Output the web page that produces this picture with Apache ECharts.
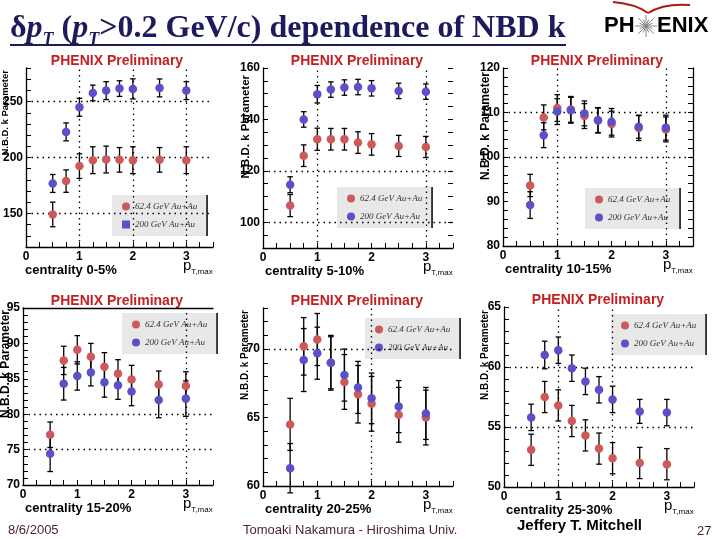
<!DOCTYPE html>
<html><head><meta charset="utf-8">
<script src="https://cdn.jsdelivr.net/npm/echarts@6/dist/echarts.min.js"></script>
<style>html,body{margin:0;padding:0;background:#fff}#c{width:720px;height:540px}</style>
</head><body><div id="c"></div>
<script>
// ---------- data ----------
const ptMax = [0.5, 0.75, 1, 1.25, 1.5, 1.75, 2, 2.5, 3];
const centralities = ['centrality 0-5%', 'centrality 5-10%', 'centrality 10-15%', 'centrality 15-20%', 'centrality 20-25%', 'centrality 25-30%'];
const seriesNames = ['62.4 GeV Au+Au', '200 GeV Au+Au'];

const k62_c0 = [149.1, 178.9, 192.3, 197.6, 198.2, 197.9, 197.6, 197.9, 197.6];
const k200_c0 = [176.8, 222.9, 244.9, 257.7, 259.8, 261.6, 261.3, 262.2, 259.8];
const e62_c0 = [11, 10, 11, 12, 12, 11, 12, 11, 12];
const e200_c0 = [8, 8, 8, 7, 8, 7, 9, 8, 8];

const k62_c5 = [106.5, 125.9, 132.3, 132.3, 132.3, 131.0, 130.3, 129.7, 129.3];
const k200_c5 = [114.6, 140.0, 149.8, 151.6, 152.4, 152.6, 152.1, 151.1, 150.8];
const e62_c5 = [4.3, 4.2, 4.3, 4.2, 4.2, 4.2, 4.2, 4.1, 4.1];
const e200_c5 = [3.1, 3, 3.4, 3, 3, 3, 3, 3, 3];

const k62_c10 = [93.6, 108.9, 111.0, 110.7, 109.2, 108.3, 107.4, 106.5, 106.2];
const k200_c10 = [89.2, 104.9, 110.2, 110.5, 109.8, 108.2, 107.9, 106.8, 106.6];
const e62_c10 = [2.5, 2.8, 3, 2.9, 2.8, 2.8, 2.9, 2.8, 2.8];
const e200_c10 = [3, 2.8, 2.9, 2.9, 2.8, 2.8, 3, 2.6, 2.8];

const k62_c15 = [77.1, 87.6, 89.1, 88.1, 86.7, 85.7, 84.9, 84.2, 84.0];
const k200_c15 = [74.4, 84.3, 85.4, 85.9, 84.5, 84.1, 83.2, 82.0, 82.2];
const e62_c15 = [1.8, 2, 2, 1.9, 2, 2, 2, 1.9, 2];
const e200_c15 = [2.5, 2.3, 2, 1.9, 2.1, 2, 2, 2.5, 2.5];

const k62_c20 = [64.5, 70.2, 70.7, 69.0, 67.6, 66.7, 66.0, 65.2, 65.0];
const k200_c20 = [61.3, 69.2, 69.7, 69.0, 68.1, 67.2, 66.4, 65.8, 65.3];
const e62_c20 = [1.9, 2.1, 1.9, 2, 2, 2.1, 2, 2, 2];
const e200_c20 = [1.8, 2.3, 1.9, 1.9, 1.9, 1.9, 1.85, 1.9, 1.9];

const k62_c25 = [53.1, 57.5, 56.8, 55.5, 54.3, 53.2, 52.4, 52.0, 51.9];
const k200_c25 = [55.8, 61.0, 61.4, 59.9, 58.8, 58.1, 57.3, 56.3, 56.2];
const e62_c25 = [1.3, 1.3, 1.3, 1.3, 1.3, 1.3, 1.3, 1.3, 1.3];
const e200_c25 = [1.1, 1.15, 1.1, 1.1, 1.1, 1.1, 1.1, 1.0, 1.1];

const k62 = [k62_c0, k62_c5, k62_c10, k62_c15, k62_c20, k62_c25];
const k200 = [k200_c0, k200_c5, k200_c10, k200_c15, k200_c20, k200_c25];
const e62 = [e62_c0, e62_c5, e62_c10, e62_c15, e62_c20, e62_c25];
const e200 = [e200_c0, e200_c5, e200_c10, e200_c15, e200_c20, e200_c25];

// axis ranges and tick labels
const yMins = [120, 90, 80, 70, 60, 50];
const yMaxs = [280, 160, 120, 95, 73, 65];
const yTickSteps = [10, 5, 2, 1, 1, 1];
const yLabelSteps = [50, 20, 10, 5, 5, 5];
const yGridValues = [[150, 200, 250], [100, 120], [100, 110], [75, 80], [70], [55, 60]];
const xGridValues = [[1, 2, 3], [1, 3], [1, 3], [3], [2], [1, 2]];
const xLabelValues = [0, 1, 2, 3];

// ---------- layout ----------
const boxes = [[23, 68, 190, 179], [263, 68, 190, 180], [503, 68, 190, 178],
               [23, 308, 190, 177], [263, 308, 190, 178], [504, 307, 190, 180]];
const legendPos = [[112, 195], [337, 187], [585, 188], [122, 313], [365, 318], [611, 314]];
const yNamePos = [[0, 70, 9.5], [240, 75, 11.5], [480, 72, 12], [0, 310, 12], [240, 310, 10], [480, 310, 10]];
const rightFrame = [null, 'ticks', 'line', null, null, null];
const topFrame = [false, false, false, true, false, false];
const RED = '#cd5a5a', BLUE = '#5a50c8';
const SANS = '"Liberation Sans", Arial, sans-serif';
const SERIF = '"Liberation Serif", "Times New Roman", serif';

function renderErr(params, api) {
  const x = api.value(0), lo = api.value(1), hi = api.value(2);
  if (!(hi > lo)) return null;
  const p1 = api.coord([x, lo]), p2 = api.coord([x, hi]);
  const c = 2.8;
  const st = { stroke: '#000', lineWidth: 1.3 };
  return { type: 'group', children: [
    { type: 'line', shape: { x1: p1[0], y1: p1[1], x2: p2[0], y2: p2[1] }, style: st },
    { type: 'line', shape: { x1: p1[0] - c, y1: p1[1], x2: p1[0] + c, y2: p1[1] }, style: st },
    { type: 'line', shape: { x1: p2[0] - c, y1: p2[1], x2: p2[0] + c, y2: p2[1] }, style: st }
  ]};
}

const grids = [], xAxes = [], yAxes = [], series = [], legends = [], graphics = [];
const extraX = [], extraY = [];
boxes.forEach((b, i) => {
  grids.push({ left: b[0], top: b[1], width: b[2], height: b[3] });
  xAxes.push({
    type: 'value', gridIndex: i, min: 0, max: 3.5, interval: 0.25,
    axisLine: { show: true, onZero: false, lineStyle: { color: '#000', width: 1.3 } },
    axisTick: { inside: true, length: 5, lineStyle: { color: '#000' } },
    axisLabel: { margin: 4, color: '#000', fontWeight: 'bold', fontSize: 12, fontFamily: SANS,
      formatter: v => xLabelValues.includes(v) ? String(v) : '' },
    splitLine: { show: false }
  });
  const step = yLabelSteps[i];
  yAxes.push({
    type: 'value', gridIndex: i, min: yMins[i], max: yMaxs[i], interval: yTickSteps[i],
    axisLine: { show: true, onZero: false, lineStyle: { color: '#000', width: 1.3 } },
    axisTick: { inside: true, length: 5, lineStyle: { color: '#000' } },
    axisLabel: { margin: 3, color: '#000', fontWeight: 'bold', fontSize: 12, fontFamily: SANS,
      formatter: v => (Math.abs(v / step - Math.round(v / step)) < 1e-6 ? String(v) : '') },
    splitLine: { show: false }
  });
  if (rightFrame[i]) {
    extraY.push({
      type: 'value', gridIndex: i, position: 'right', min: yMins[i], max: yMaxs[i], interval: yTickSteps[i],
      axisLine: { show: rightFrame[i] === 'line', onZero: false, lineStyle: { color: '#000', width: 1.3 } },
      axisTick: { show: true, inside: true, length: 5, lineStyle: { color: '#000' } },
      axisLabel: { show: false }, splitLine: { show: false }
    });
  }
  if (topFrame[i]) {
    extraX.push({
      type: 'value', gridIndex: i, position: 'top', min: 0, max: 3.5,
      axisLine: { show: true, onZero: false, lineStyle: { color: '#000', width: 1.3 } },
      axisTick: { show: false }, axisLabel: { show: false }, splitLine: { show: false }
    });
  }
  const errR = ptMax.map((x, j) => [x, k62[i][j] - e62[i][j], k62[i][j] + e62[i][j]]);
  const errB = ptMax.map((x, j) => [x, k200[i][j] - e200[i][j], k200[i][j] + e200[i][j]]);
  series.push({ type: 'custom', xAxisIndex: i, yAxisIndex: i, renderItem: renderErr,
    encode: { x: 0, y: [1, 2] }, data: errR, z: 3, silent: true });
  series.push({ type: 'custom', xAxisIndex: i, yAxisIndex: i, renderItem: renderErr,
    encode: { x: 0, y: [1, 2] }, data: errB, z: 3, silent: true });
  const gridMarks = yGridValues[i].map(v => ({ yAxis: v })).concat(xGridValues[i].map(v => ({ xAxis: v })));
  series.push({ name: seriesNames[0], type: 'scatter', xAxisIndex: i, yAxisIndex: i,
    symbol: 'circle', symbolSize: 8.5, itemStyle: { color: RED, opacity: 1 }, z: 5,
    data: ptMax.map((x, j) => [x, k62[i][j]]),
    markLine: { silent: true, symbol: 'none', label: { show: false }, animation: false,
      lineStyle: { color: '#000', type: [1.5, 4], width: 1.3 }, data: gridMarks } });
  series.push({ name: seriesNames[1], type: 'scatter', xAxisIndex: i, yAxisIndex: i,
    symbol: 'circle', symbolSize: 8.5, itemStyle: { color: BLUE, opacity: 1 }, z: 6,
    data: ptMax.map((x, j) => [x, k200[i][j]]) });
  legends.push({
    left: legendPos[i][0], top: legendPos[i][1], orient: 'vertical', selectedMode: false,
    backgroundColor: '#e8e8e8', padding: [7, 9, 7, 10], itemGap: 9, itemWidth: 8, itemHeight: 8,
    shadowColor: '#000', shadowOffsetX: 1.5, shadowBlur: 0,
    textStyle: { fontFamily: SERIF, fontStyle: 'italic', fontSize: 9, color: '#333' },
    data: [{ name: seriesNames[0], icon: 'circle' }, { name: seriesNames[1], icon: i === 0 ? 'rect' : 'circle' }]
  });
  // panel annotations
  graphics.push({ type: 'text', x: b[0] + 94, y: b[1] - 7, style: { text: 'PHENIX Preliminary',
    fill: '#c41e1e', font: 'bold 14px ' + SANS, textAlign: 'center', textVerticalAlign: 'middle' } });
  graphics.push({ type: 'text', x: b[0] + 2, y: b[1] + b[3] + 23, style: { text: centralities[i],
    fill: '#000', font: 'bold 13px ' + SANS, textAlign: 'left', textVerticalAlign: 'middle' } });
  graphics.push({ type: 'text', x: yNamePos[i][0], y: yNamePos[i][1], rotation: Math.PI / 2,
    style: { text: 'N.B.D. k Parameter', fill: '#000', font: 'bold ' + yNamePos[i][2] + 'px ' + SANS,
      textAlign: 'right', textVerticalAlign: 'top' } });
  graphics.push({ type: 'text', x: b[0] + 160, y: b[1] + b[3] + 19, style: {
    text: '{p|p}{s|T,max}', textVerticalAlign: 'middle', fill: '#000',
    rich: { p: { fontSize: 15, fontFamily: SANS, lineHeight: 20, fill: '#000' },
            s: { fontSize: 8, fontFamily: SANS, lineHeight: 10, verticalAlign: 'bottom', fill: '#000' } } } });
});

// slide title, logo, footer
graphics.push({ type: 'text', x: 10, y: 29, style: {
  text: '{a|δ}{p|p}{s|T}{a| (}{p|p}{s|T}{a|>0.2 GeV/c) dependence of NBD k}',
  textVerticalAlign: 'middle', fill: '#1c1c5c',
  rich: { a: { font: 'bold 32px ' + SERIF, lineHeight: 40, fill: '#1c1c5c' },
          p: { font: 'italic bold 32px ' + SERIF, lineHeight: 40, fill: '#1c1c5c' },
          s: { font: 'italic bold 18px ' + SERIF, lineHeight: 18, verticalAlign: 'bottom', fill: '#1c1c5c' } } } });
graphics.push({ type: 'line', shape: { x1: 10, y1: 45, x2: 566, y2: 45 }, style: { stroke: '#1c1c5c', lineWidth: 2 } });
graphics.push({ type: 'bezierCurve', shape: { x1: 613, y1: 2, x2: 648, y2: 13, cpx1: 636, cpy1: 4 }, style: { stroke: '#b01818', lineWidth: 2, fill: null } });
graphics.push({ type: 'bezierCurve', shape: { x1: 648, y1: 13, x2: 690, y2: 5, cpx1: 664, cpy1: 3 }, style: { stroke: '#b01818', lineWidth: 2, fill: null } });
graphics.push({ type: 'text', x: 604, y: 26, style: { text: 'PH', font: 'bold 22px ' + SANS, fill: '#000', textVerticalAlign: 'middle' } });
graphics.push({ type: 'text', x: 657, y: 26, style: { text: 'ENIX', font: 'bold 22px ' + SANS, fill: '#000', textVerticalAlign: 'middle' } });
for (let a = 0; a < 16; a++) {
  const ang = a * Math.PI / 8, r = a % 2 ? 7 : 11;
  graphics.push({ type: 'line', shape: { x1: 646, y1: 26, x2: 646 + r * Math.cos(ang), y2: 26 + r * Math.sin(ang) },
    style: { stroke: '#888', lineWidth: 1 } });
}
graphics.push({ type: 'text', x: 8, y: 530, style: { text: '8/6/2005', font: '13px ' + SANS, fill: '#4d1f2f', textVerticalAlign: 'middle' } });
graphics.push({ type: 'text', x: 243, y: 530, style: { text: 'Tomoaki Nakamura - Hiroshima Univ.', font: '13px ' + SANS, fill: '#4d1f2f', textVerticalAlign: 'middle' } });
graphics.push({ type: 'text', x: 517, y: 526, style: { text: 'Jeffery T. Mitchell', font: 'bold 15px ' + SANS, fill: '#000', textVerticalAlign: 'middle' } });
graphics.push({ type: 'text', x: 697, y: 531, style: { text: '27', font: '13px ' + SANS, fill: '#4d1f2f', textVerticalAlign: 'middle' } });

const chart = echarts.init(document.getElementById('c'), null, { renderer: 'canvas' });
chart.setOption({
  animation: false,
  backgroundColor: '#fff',
  grid: grids, xAxis: xAxes.concat(extraX), yAxis: yAxes.concat(extraY), series: series, legend: legends,
  graphic: { elements: graphics }
});
</script></body></html>
